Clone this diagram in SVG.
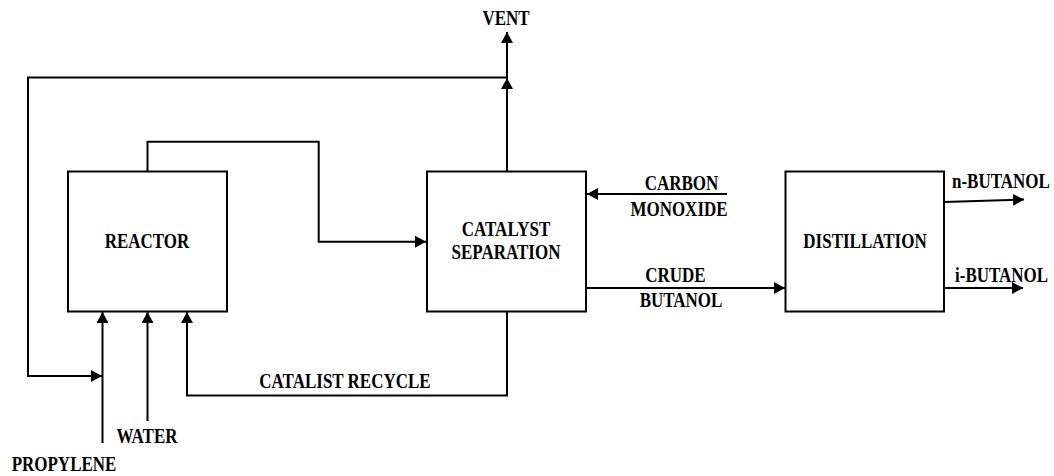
<svg xmlns="http://www.w3.org/2000/svg" width="1054" height="476" viewBox="0 0 1054 476">
<style>
.box{fill:#fff;stroke:#000;stroke-width:2}
.ln{fill:none;stroke:#000;stroke-width:2}
.t{font-family:'Liberation Serif','Times New Roman',Times,serif;font-weight:700;font-size:17px;fill:#000;text-anchor:middle}
.s{text-anchor:start}
</style>
<defs>
<marker id="ah" viewBox="0 0 11 12" refX="11" refY="6" markerWidth="11" markerHeight="12" markerUnits="userSpaceOnUse" orient="auto">
<path d="M0,0 L11,6 L0,12 z" fill="#000"/>
</marker>
</defs>
<rect width="1054" height="476" fill="#fff"/>
<g id="connectors">
<path class="ln" d="M507,171 V78" marker-end="url(#ah)"/>
<path class="ln" d="M507,78 V32" marker-end="url(#ah)"/>
<path class="ln" d="M507,77.5 H28 V376 H102" marker-end="url(#ah)"/>
<path class="ln" d="M102.5,443 V312" marker-end="url(#ah)"/>
<path class="ln" d="M147.5,421 V312" marker-end="url(#ah)"/>
<path class="ln" d="M507,311 V395.5 H187 V312" marker-end="url(#ah)"/>
<path class="ln" d="M147.5,171 V141.7 H318.7 V241.7 H426" marker-end="url(#ah)"/>
<path class="ln" d="M727,194 H587" marker-end="url(#ah)"/>
<path class="ln" d="M586,288 H785" marker-end="url(#ah)"/>
<path class="ln" d="M944,202 L1024,199.5" marker-end="url(#ah)"/>
<path class="ln" d="M944,288 H1023" marker-end="url(#ah)"/>
</g>
<g id="reactor">
<rect class="box" x="68" y="171.5" width="159" height="140"/>
<text class="t" transform="translate(147 248) scale(1 1.18)">REACTOR</text>
</g>
<g id="catalyst-separation">
<rect class="box" x="427" y="171.5" width="159" height="140"/>
<text class="t" transform="translate(506 236) scale(1 1.18)">CATALYST</text>
<text class="t" transform="translate(506 259) scale(1 1.18)">SEPARATION</text>
</g>
<g id="distillation">
<rect class="box" x="785.5" y="171.5" width="158.5" height="140"/>
<text class="t" transform="translate(865 248) scale(1 1.18)">DISTILLATION</text>
</g>
<g id="labels">
<text class="t" transform="translate(506 25) scale(1 1.18)">VENT</text>
<text class="t" transform="translate(681.5 190) scale(1 1.18)">CARBON</text>
<text class="t" transform="translate(679 216) scale(1 1.18)">MONOXIDE</text>
<text class="t" transform="translate(675.5 282) scale(1 1.18)">CRUDE</text>
<text class="t" transform="translate(681 307) scale(1 1.18)">BUTANOL</text>
<text class="t s" transform="translate(952 188) scale(1 1.18)">n-BUTANOL</text>
<text class="t s" transform="translate(955 282) scale(1 1.18)">i-BUTANOL</text>
<text class="t" transform="translate(345 388) scale(1 1.18)">CATALIST RECYCLE</text>
<text class="t" transform="translate(147 443) scale(1 1.18)">WATER</text>
<text class="t" transform="translate(64 471) scale(1 1.18)">PROPYLENE</text>
</g>
</svg>
